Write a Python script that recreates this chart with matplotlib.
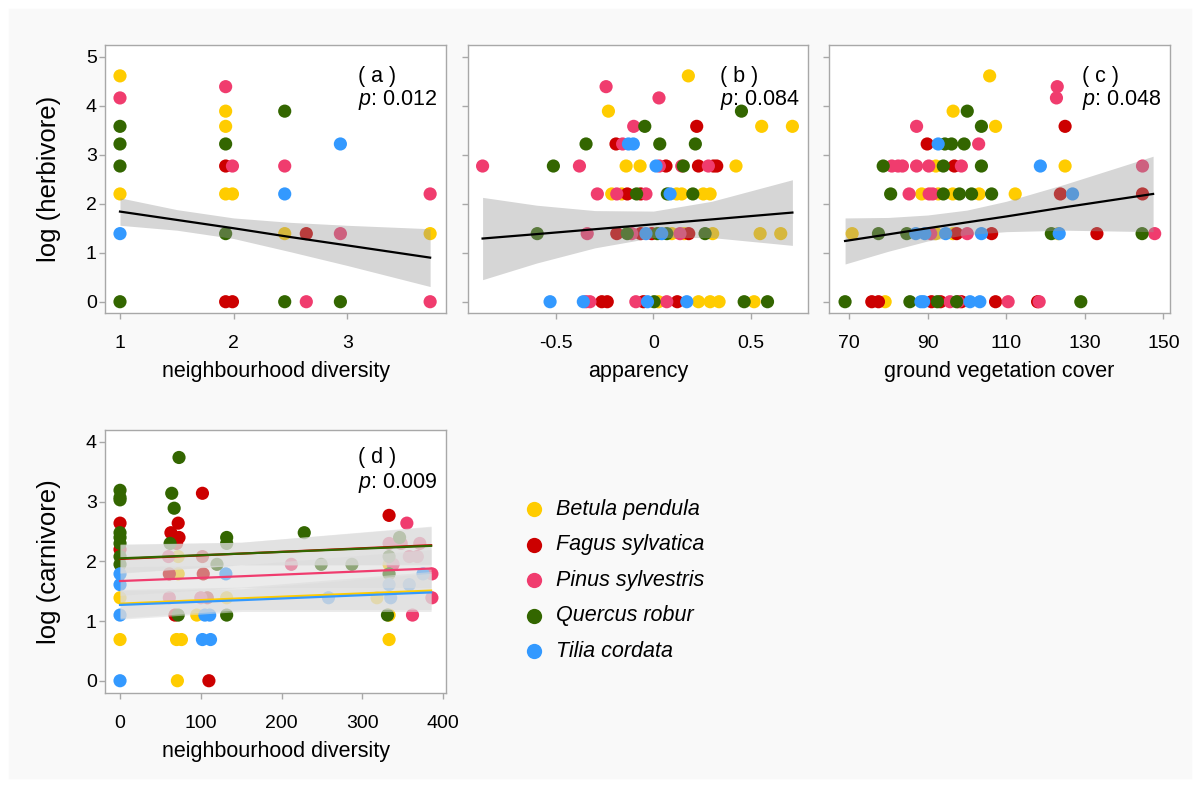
import matplotlib.pyplot as plt
from matplotlib.lines import Line2D
from matplotlib.patches import Rectangle
import numpy as np

plt.rcParams["font.family"] = ["Liberation Sans", "DejaVu Sans"]
plt.rcParams["mathtext.fontset"] = "custom"
plt.rcParams["mathtext.it"] = "Liberation Sans:italic"
plt.rcParams["mathtext.rm"] = "Liberation Sans"

species = ["Betula pendula", "Fagus sylvatica", "Pinus sylvestris",
           "Quercus robur", "Tilia cordata"]
colors = ["#FFCC00", "#CC0000", "#F03C6E", "#336600", "#3399FF"]

# (a) herbivores vs neighbourhood diversity
a_x = [[1, 1, 1.93, 1.93, 1.93, 1.99, 2.45, 3.73],
       [1.93, 1.93, 1.99, 2.64],
       [1, 1.93, 1.99, 2.45, 2.64, 2.94, 3.73, 3.73],
       [1, 1, 1, 1, 1.93, 1.93, 2.45, 2.45, 2.94],
       [1, 2.45, 2.94]]
a_y = [[4.61, 2.20, 3.89, 3.58, 2.20, 2.20, 1.39, 1.39],
       [2.77, 0, 0, 1.39],
       [4.16, 4.39, 2.77, 2.77, 0, 1.39, 2.20, 0],
       [3.58, 3.22, 2.77, 0, 3.22, 1.39, 3.89, 0, 0],
       [1.39, 2.20, 3.22]]
a_fit_x = [1.0, 1.5, 2.0, 2.5, 3.0, 3.73]
a_fit_y = [1.84, 1.67, 1.50, 1.32, 1.15, 0.90]
a_fit_lo = [1.56, 1.46, 1.29, 1.02, 0.74, 0.31]
a_fit_hi = [2.12, 1.88, 1.71, 1.62, 1.56, 1.49]

# (b) herbivores vs apparency
b_x = [[0.18, -0.231, 0.557, 0.715, -0.14, -0.068, 0.425, -0.214, -0.163, 0.12,
        0.146, 0.257, 0.292, 0.095, 0.158, 0.305, 0.549, 0.655, 0.026, 0.232,
        0.292, 0.338, 0.518],
       [0.223, -0.192, 0.065, 0.232, 0.309, 0.326, -0.134, -0.065, -0.188,
        -0.065, -0.008, 0.182, -0.265, -0.237, -0.051, 0.123],
       [-0.243, 0.029, -0.101, -0.158, -0.878, -0.38, 0.031, 0.146, 0.283,
        -0.288, -0.188, -0.038, -0.34, -0.111, 0.137, -0.346, -0.326, -0.09,
        0.069],
       [0.453, -0.044, -0.346, 0.033, 0.216, -0.514, 0.154, -0.086, 0.072,
        0.203, -0.597, -0.134, 0.021, 0.069, 0.266, 0.004, 0.467, 0.587],
       [-0.128, -0.103, 0.014, 0.086, -0.038, 0.043, -0.531, -0.36, -0.03,
        0.172]]
b_y = [[4.61, 3.89, 3.58, 3.58, 2.77, 2.77, 2.77, 2.20, 2.20, 2.20, 2.20, 2.20,
        2.20, 1.39, 1.39, 1.39, 1.39, 1.39, 0, 0, 0, 0, 0],
       [3.58, 3.22, 2.77, 2.77, 2.77, 2.77, 2.20, 2.20, 1.39, 1.39, 1.39, 1.39,
        0, 0, 0, 0],
       [4.39, 4.16, 3.58, 3.22, 2.77, 2.77, 2.77, 2.77, 2.77, 2.20, 2.20, 2.20,
        1.39, 1.39, 1.39, 0, 0, 0, 0],
       [3.89, 3.58, 3.22, 3.22, 3.22, 2.77, 2.77, 2.20, 2.20, 2.20, 1.39, 1.39,
        1.39, 1.39, 1.39, 0, 0, 0],
       [3.22, 3.22, 2.77, 2.20, 1.39, 1.39, 0, 0, 0, 0]]
b_fit_x = [-0.878, -0.6, -0.3, 0.0, 0.3, 0.715]
b_fit_y = [1.29, 1.38, 1.48, 1.58, 1.68, 1.82]
b_fit_lo = [0.45, 0.79, 1.10, 1.31, 1.31, 1.15]
b_fit_hi = [2.13, 1.97, 1.86, 1.85, 2.05, 2.49]

# (c) herbivores vs ground vegetation cover
c_x = [[105.8, 96.5, 107.3, 92.1, 125, 88.5, 92.7, 96.4, 103.1, 112.3, 70.8,
        92.1, 96.5, 123.2, 79.2],
       [125, 89.9, 96.8, 123.8, 144.7, 97.4, 106.3, 133.1, 75.8, 77.5, 91,
        93.3, 98.6, 107.3, 118],
       [123, 122.8, 87.2, 103, 80.9, 82.5, 83.6, 87.2, 90.3, 98.6, 144.7, 85.3,
        90.4, 91.3, 90.8, 100.1, 147.8, 95.7, 97.8, 110.5, 118.4],
       [100.1, 103.7, 94.4, 96.1, 99.3, 78.7, 94, 103.7, 80.6, 94, 98.1, 101.2,
        106.3, 77.5, 84.7, 121.5, 144.6, 69, 85.5, 92.5, 97.4, 129],
       [92.7, 118.7, 126.9, 87, 89.3, 94.6, 103.7, 123.5, 88.3, 89, 100.8,
        103.3]]
c_y = [[4.61, 3.89, 3.58, 2.77, 2.77, 2.20, 2.20, 2.20, 2.20, 2.20, 1.39, 1.39,
        1.39, 1.39, 0],
       [3.58, 3.22, 2.77, 2.20, 2.20, 1.39, 1.39, 1.39, 0, 0, 0, 0, 0, 0, 0],
       [4.39, 4.16, 3.58, 3.22, 2.77, 2.77, 2.77, 2.77, 2.77, 2.77, 2.77, 2.20,
        2.20, 2.20, 1.39, 1.39, 1.39, 0, 0, 0, 0],
       [3.89, 3.58, 3.22, 3.22, 3.22, 2.77, 2.77, 2.77, 2.20, 2.20, 2.20, 2.20,
        2.20, 1.39, 1.39, 1.39, 1.39, 0, 0, 0, 0, 0],
       [3.22, 2.77, 2.20, 1.39, 1.39, 1.39, 1.39, 1.39, 0, 0, 0, 0]]
c_fit_x = [69, 80, 90, 100, 110, 125, 147.4]
c_fit_y = [1.24, 1.375, 1.50, 1.62, 1.74, 1.93, 2.20]
c_fit_lo = [0.77, 1.03, 1.24, 1.37, 1.43, 1.46, 1.43]
c_fit_hi = [1.71, 1.72, 1.77, 1.87, 2.05, 2.40, 2.97]

# (d) carnivores vs neighbourhood diversity
d_x = [[0, 0, 72, 70, 76, 71, 95, 132, 318, 333, 333, 333, 72],
       [0, 0, 63, 72, 73, 70, 61, 68, 102, 102, 103, 108, 110, 333],
       [61, 60, 100, 212, 333, 338, 348, 355, 358, 362, 371, 368, 386, 386],
       [0, 0, 0, 0, 0, 0, 0, 0, 64, 73, 67, 62, 72, 132, 132, 120, 132, 228,
        249, 287, 331, 333, 333, 346],
       [0, 0, 0, 0, 105, 111, 102, 112, 131, 258, 333, 335, 358, 375]]
d_y = [[1.39, 0.69, 1.79, 0.69, 0.69, 0, 1.10, 1.39, 1.39, 1.95, 1.10, 0.69,
        2.08],
       [2.64, 2.20, 2.48, 2.64, 2.40, 2.30, 1.79, 1.10, 3.14, 2.08, 1.79, 1.39,
        0, 2.77],
       [1.39, 2.08, 1.39, 1.95, 2.30, 1.95, 2.30, 2.64, 2.08, 1.10, 2.30, 2.08,
        1.79, 1.39],
       [3.19, 3.07, 3.03, 2.48, 2.40, 2.30, 2.08, 1.95, 3.14, 3.74, 2.89, 2.30,
        1.10, 2.40, 2.30, 1.95, 1.10, 2.48, 1.95, 1.95, 1.10, 2.08, 1.79, 2.40],
       [1.79, 1.61, 1.10, 0, 1.10, 1.10, 0.69, 0.69, 1.79, 1.39, 1.61, 1.39,
        1.61, 1.79]]
d_fit_x = [0, 150, 385]
d_fit_y = [[1.29, 1.38, 1.51],
           [2.04, 2.13, 2.27],
           [1.67, 1.75, 1.88],
           [2.05, 2.13, 2.26],
           [1.27, 1.35, 1.48]]
d_band_hw = [0.24, 0.19, 0.32]

fig = plt.figure(figsize=(12, 7.87), dpi=100, facecolor="#f9f9f9")
fig.patches.append(Rectangle((0, 0), 1, 1, transform=fig.transFigure,
                             fill=False, edgecolor="white", lw=12))

ax_a = fig.add_axes([0.0875, 0.6023, 0.2842, 0.3405])
ax_b = fig.add_axes([0.39, 0.6023, 0.2833, 0.3405])
ax_c = fig.add_axes([0.6908, 0.6023, 0.2842, 0.3405])
ax_d = fig.add_axes([0.0875, 0.1194, 0.2842, 0.3342])

SIZE = 90


def style(ax):
    ax.set_facecolor("white")
    for sp in ax.spines.values():
        sp.set_color("#a8a8a8")
        sp.set_linewidth(1)
    ax.tick_params(axis="both", color="#a8a8a8", labelcolor="black",
                   labelsize=14, length=4, width=1)
    ax.tick_params(axis="x", pad=12)
    ax.tick_params(axis="y", pad=2)


def herb_panel(ax, xs, ys, fx, fy, flo, fhi, xlabel, tag, pval):
    style(ax)
    for sx, sy, col in zip(xs, ys, colors):
        ax.scatter(sx, sy, s=SIZE, color=col, edgecolors="none", zorder=2)
    ax.fill_between(fx, flo, fhi, color="#999999", alpha=0.4, lw=0, zorder=3)
    ax.plot(fx, fy, color="black", lw=1.6, zorder=4)
    ax.set_ylim(-0.23, 5.24)
    ax.set_yticks([0, 1, 2, 3, 4, 5])
    ax.set_xlabel(xlabel, fontsize=15.5, labelpad=6)
    ax.text(0.741, 0.884, "( %s )" % tag, transform=ax.transAxes,
            fontsize=15.5, va="center", zorder=5)
    ax.text(0.741, 0.795, r"$p$: %s" % pval, transform=ax.transAxes,
            fontsize=15.5, va="center", zorder=5)


herb_panel(ax_a, a_x, a_y, a_fit_x, a_fit_y, a_fit_lo, a_fit_hi,
           "neighbourhood diversity", "a", "0.012")
ax_a.set_xlim(0.868, 3.87)
ax_a.set_xticks([1, 2, 3])
ax_a.set_ylabel("log (herbivore)", fontsize=18.5)
ax_a.yaxis.set_label_coords(-0.13, 0.5)

herb_panel(ax_b, b_x, b_y, b_fit_x, b_fit_y, b_fit_lo, b_fit_hi,
           "apparency", "b", "0.084")
ax_b.set_xlim(-0.953, 0.795)
ax_b.set_xticks([-0.5, 0, 0.5])
ax_b.set_xticklabels(["-0.5", "0", "0.5"])
ax_b.set_yticklabels([])

herb_panel(ax_c, c_x, c_y, c_fit_x, c_fit_y, c_fit_lo, c_fit_hi,
           "ground vegetation cover", "c", "0.048")
ax_c.set_xlim(64.9, 151.7)
ax_c.set_xticks([70, 90, 110, 130, 150])
ax_c.set_yticklabels([])

# (d)
style(ax_d)
for sx, sy, col in zip(d_x, d_y, colors):
    ax_d.scatter(sx, sy, s=SIZE, color=col, edgecolors="none", zorder=2)
hw = np.array(d_band_hw)
for fy in d_fit_y:
    fy = np.array(fy)
    ax_d.fill_between(d_fit_x, fy - hw, fy + hw, color="#dcdcdc", alpha=0.55,
                      lw=0, zorder=3)
for i in [0, 4, 2, 1, 3]:
    ax_d.plot(d_fit_x, d_fit_y[i], color=colors[i], lw=1.6, zorder=4)
ax_d.set_xlim(-18.6, 403.5)
ax_d.set_ylim(-0.206, 4.2)
ax_d.set_xticks([0, 100, 200, 300, 400])
ax_d.set_yticks([0, 1, 2, 3, 4])
ax_d.set_xlabel("neighbourhood diversity", fontsize=15.5, labelpad=6)
ax_d.set_ylabel("log (carnivore)", fontsize=18.5)
ax_d.yaxis.set_label_coords(-0.13, 0.5)
ax_d.text(0.741, 0.894, "( d )", transform=ax_d.transAxes, fontsize=15.5,
          va="center", zorder=5)
ax_d.text(0.741, 0.80, r"$p$: 0.009", transform=ax_d.transAxes,
          fontsize=15.5, va="center", zorder=5)

# legend
leg_x, leg_tx, leg_y0, leg_step = 0.445, 0.4633, 0.3532, 0.0451
for i, (name, col) in enumerate(zip(species, colors)):
    y = leg_y0 - i * leg_step
    fig.add_artist(Line2D([leg_x], [y], marker="o", ms=11, color=col,
                          mec="none", transform=fig.transFigure))
    fig.text(leg_tx, y, name, fontsize=15.5, fontstyle="italic", va="center")

fig.savefig("out.png", dpi=100, facecolor=fig.get_facecolor())
